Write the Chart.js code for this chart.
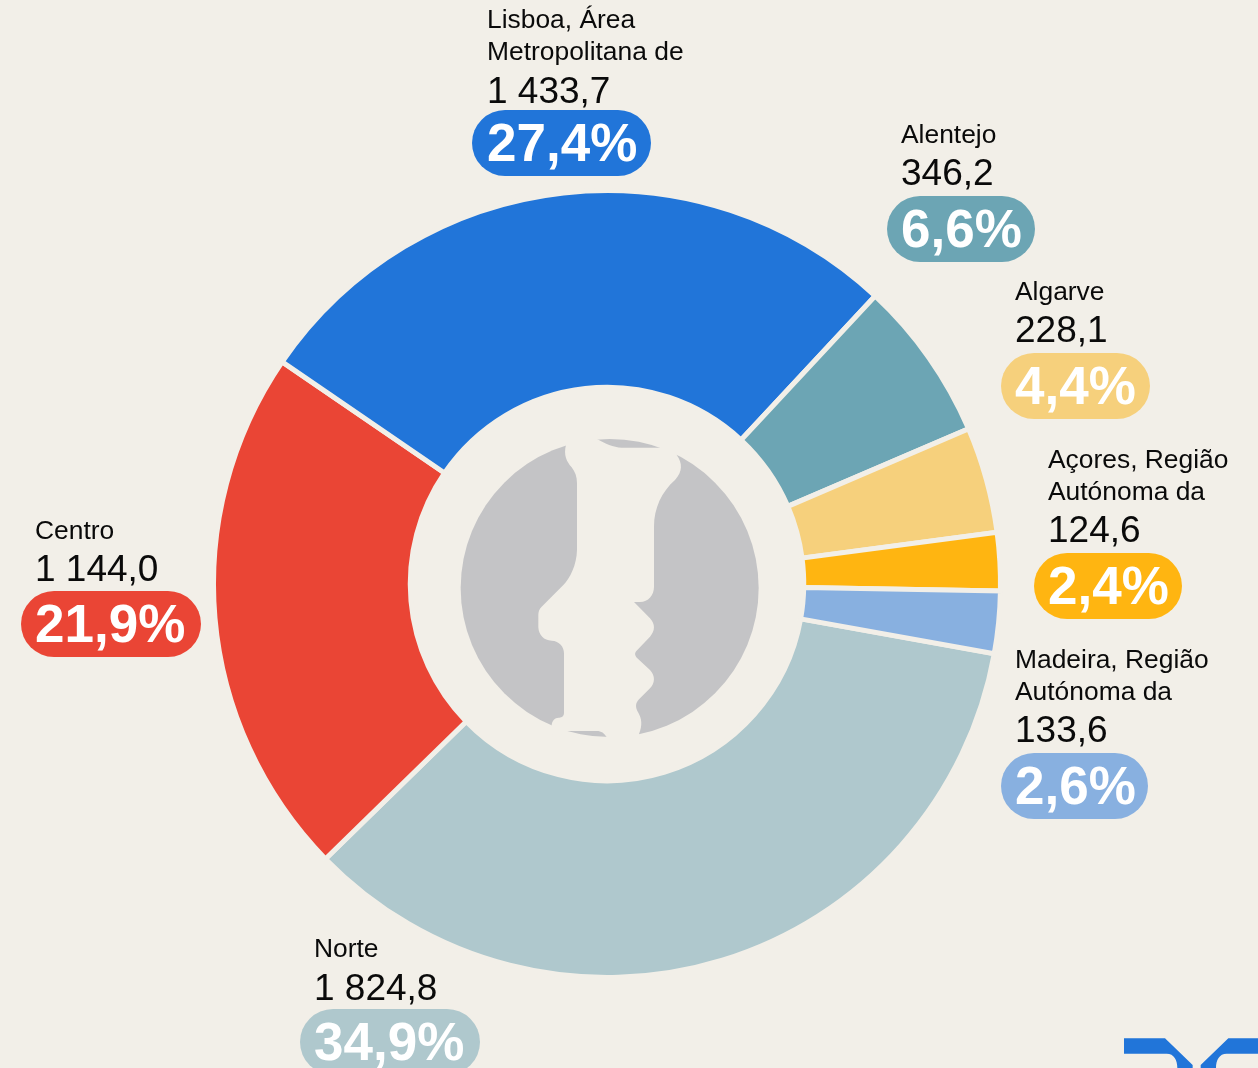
<!DOCTYPE html>
<html><head><meta charset="utf-8">
<script src="https://cdn.jsdelivr.net/npm/chart.js@4"></script>
<style>
html,body{margin:0;padding:0;background:#F2EFE8;overflow:hidden}
#wrap{position:relative;width:1258px;height:1068px;overflow:hidden;font-family:"Liberation Sans",Arial,sans-serif;color:#0a0a0a}
canvas{position:absolute;left:0;top:0}
svg{position:absolute}
.lab{position:absolute;white-space:nowrap}
.name{position:absolute;font-size:26.4px;line-height:32px;left:0;}
.val{position:absolute;font-size:37px;line-height:42px;left:0}
.pill{position:absolute;height:66px;border-radius:33px;color:#fff;font-weight:bold;font-size:53px;line-height:66px;box-sizing:border-box;text-align:left}
</style></head><body>
<div id="wrap">
<canvas id="c" width="1258" height="1068"></canvas>
<svg style="left:440px;top:420px" width="340" height="340" viewBox="0 0 1020 1020">
<circle cx="509" cy="504" r="447" fill="#C4C4C6"/>
<path fill="#F2EFE8" d="M378 40 L378 75 C370 105 380 125 395 142 C405 155 411 170 411 190 L411 390 C410 435 390 475 370 495 L305 560 C298 567 295 575 295 585 L295 622 C296 645 312 662 335 662 C358 663 372 680 372 700 L372 880 C372 888 366 893 358 893 C345 892 335 903 335 916 L340 960 L383 933 L470 933 C485 933 492 940 500 951 L500 985 L597 985 L597 942 C608 915 605 895 595 878 C585 862 586 850 597 838 L630 805 C646 788 646 768 630 750 L592 715 C583 705 583 698 592 690 L630 650 C646 632 646 612 630 595 L582 546 L600 546 C625 546 642 525 642 500 L642 320 C642 265 665 215 705 180 C728 155 728 130 710 105 L700 70 L660 83 L545 83 C520 83 495 70 472 58 L472 40 Z"/>
</svg>
<svg style="left:1100px;top:1020px" width="158" height="48" viewBox="0 0 474 144">
<path fill="#2175D9" d="M72 55 L195 55 L278 135 L278 144 L232 144 C232 120 222 101 200 101 L72 101 Z"/>
<path fill="#2175D9" d="M474 55 L385 55 L302 135 L302 144 L348 144 C348 120 358 101 380 101 L474 101 Z"/>
</svg>
</div>
<script>
const regions = ["Norte","Centro","Lisboa, Área Metropolitana de","Alentejo","Algarve","Açores, Região Autónoma da","Madeira, Região Autónoma da"];
const nameLines = [["Norte"],["Centro"],["Lisboa, Área","Metropolitana de"],["Alentejo"],["Algarve"],["Açores, Região","Autónoma da"],["Madeira, Região","Autónoma da"]];
const values = [1824.8,1144.0,1433.7,346.2,228.1,124.6,133.6];
const valueLabels = ["1 824,8","1 144,0","1 433,7","346,2","228,1","124,6","133,6"];
const percentLabels = ["34,9%","21,9%","27,4%","6,6%","4,4%","2,4%","2,6%"];
const colors = ["#AFC8CD","#EA4535","#2175D9","#6CA5B4","#F6D07C","#FFB511","#88B0E0"];
const pillLeft = [300,21,472,887,1001,1034,1001];
const pillTop = [1009,591,110,196,353,553,753];
const pillWidth = [180,180,179,148,149,148,147];
const textInset = [14,14,15,14,14,14,14];
const nameNudge = [-2,-2,0,-3,-3,-3,-3];
const valueNudge = [0,-1,2,-2,-2,-2,-2];

new Chart(document.getElementById('c'),{
  type:'doughnut',
  data:{labels:regions,datasets:[{data:values,backgroundColor:colors,borderColor:'#F2EFE8',borderWidth:5,borderJoinStyle:'miter',spacing:0}]},
  options:{
    responsive:false,animation:false,rotation:100.2,cutout:'50%',
    layout:{padding:{left:211,right:255,top:188,bottom:88}},
    plugins:{legend:{display:false},tooltip:{enabled:false}}
  }
});

const wrap=document.getElementById('wrap');
regions.forEach((r,i)=>{
  const x=pillLeft[i], y=pillTop[i], ins=textInset[i];
  const pill=document.createElement('div');
  pill.className='pill';pill.textContent=percentLabels[i];
  pill.style.left=x+'px';pill.style.top=y+'px';pill.style.background=colors[i];pill.style.width=pillWidth[i]+'px';pill.style.paddingLeft=ins+'px';
  wrap.appendChild(pill);
  const v=document.createElement('div');
  v.className='lab val';v.textContent=valueLabels[i];
  v.style.left=(x+ins)+'px';v.style.top=(y-42+valueNudge[i])+'px';
  wrap.appendChild(v);
  const lines=nameLines[i];
  lines.forEach((t,j)=>{
    const n=document.createElement('div');
    n.className='lab name';n.textContent=t;
    n.style.left=(x+ins)+'px';
    n.style.top=(y-75+nameNudge[i]-32*(lines.length-1-j))+'px';
    wrap.appendChild(n);
  });
});
</script>
</body></html>
